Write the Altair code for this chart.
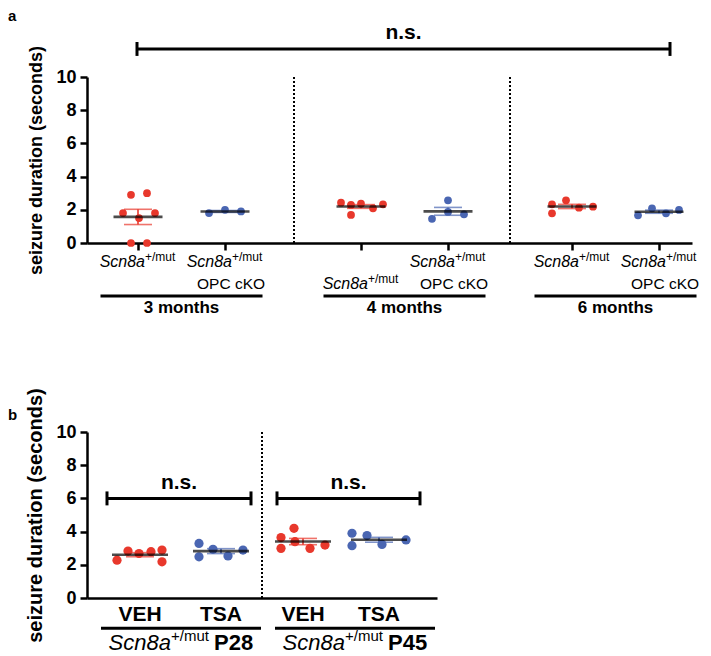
import altair as alt
import pandas as pd
import numpy as np

RED = "#E8382C"
BLUE = "#4A66B2"
F = "Liberation Sans"

# ---------------- Panel a data ----------------
a_geno = ["het", "cko", "het", "cko", "het", "cko"]
a_pos = [51, 138, 274, 361, 485, 572]
a_values = [
    [2.9, 3.0, 1.8, 1.8, 1.5, 0.0, 0.0],
    [1.8, 2.0, 1.9],
    [2.43, 2.29, 2.37, 2.09, 2.33, 1.69],
    [2.57, 1.46, 1.87, 1.73],
    [2.33, 2.57, 2.13, 2.19, 1.79],
    [1.67, 2.09, 1.79, 1.99],
]
a_jitter = [
    [-7, 9, -15, 17, 1, -7, 9],
    [-16, 0, 16],
    [-20, -10, 0, 12, 22, -10],
    [0, -16, 0, 16],
    [-20, -6, 7, 21, -20],
    [-21, -7, 7, 20],
]
a_row = [1, 1, 2, 1, 1, 1]
a_second = ["", "OPC cKO", "", "OPC cKO", "", "OPC cKO"]
a_months = ["3 months", "4 months", "6 months"]
a_dotted = [207, 423]
a_bracket = [50, 583]

# ---------------- Panel b data ----------------
b_geno = ["het", "cko", "het", "cko"]
b_treat = ["VEH", "TSA", "VEH", "TSA"]
b_pos = [53, 134, 216, 292]
b_values = [
    [2.28, 2.83, 2.68, 2.79, 2.89, 2.18],
    [3.29, 2.48, 2.93, 2.53, 2.89],
    [3.64, 2.99, 4.20, 3.39, 2.99, 3.19],
    [3.90, 3.15, 3.76, 3.23, 3.50],
]
b_jitter = [
    [-23, -12, -1, 11, 22, 22],
    [-22, -22, -8, 7, 22],
    [-22, -22, -9, -8, 7, 22],
    [-27, -27, -12, 3, 27],
]
b_blocks = ["P28", "P45"]
b_block_center = [94, 268]
b_dotted = [175]
b_brackets = [[20, 164], [190, 333]]

AW, BW, H = 605, 350, 166


def points_df(pos, values, jitter, geno):
    rows = []
    for p, vals, jit, g in zip(pos, values, jitter, geno):
        for v, j in zip(vals, jit):
            rows.append({"x": p + j, "y": v, "g": g})
    return pd.DataFrame(rows)


def stats_df(pos, values, geno):
    rows = []
    for p, vals, g in zip(pos, values, geno):
        v = np.asarray(vals, float)
        m = v.mean()
        s = v.std(ddof=1) / np.sqrt(len(v))
        rows.append({"x": p, "mean": m, "lo": m - s, "hi": m + s, "g": g})
    return pd.DataFrame(rows)


color = alt.Color("g:N", scale=alt.Scale(domain=["het", "cko"], range=[RED, BLUE]), legend=None)
YT = "seizure duration (seconds)"


def make_yaxis(title_size):
    return alt.Axis(values=[0, 2, 4, 6, 8, 10], grid=False, labelFont=F, labelFontSize=18,
                    labelFontWeight="bold", labelColor="black", tickSize=7, tickWidth=2.5,
                    tickColor="black", domainColor="black", domainWidth=2.5, labelPadding=4,
                    titleFont=F, titleFontSize=title_size, titleFontWeight="bold", titleColor="black",
                    titlePadding=10)


def build(width, pos, values, jitter, geno, xticks, size, meanw, title_size):
    xs = alt.Scale(domain=[0, width], nice=False, zero=False)
    ys = alt.Scale(domain=[0, 10], nice=False)
    yaxis = make_yaxis(title_size)
    if xticks:
        xaxis = alt.Axis(values=pos, labels=False, ticks=True, tickSize=7, tickWidth=2.5,
                         tickColor="black", domainColor="black", domainWidth=2.5, grid=False)
    else:
        xaxis = alt.Axis(labels=False, ticks=False, domainColor="black", domainWidth=2.5, grid=False)

    def X(f):
        return alt.X(f + ":Q", scale=xs, axis=xaxis, title=None)

    def Y(f):
        return alt.Y(f + ":Q", scale=ys, axis=yaxis, title=YT)

    pdf = points_df(pos, values, jitter, geno)
    sdf = stats_df(pos, values, geno)
    pts = alt.Chart(pdf).mark_circle(size=size, opacity=1).encode(x=X("x"), y=Y("y"), color=color)
    sem = alt.Chart(sdf).mark_rule(strokeWidth=1.6).encode(x=X("x"), y=Y("lo"), y2="hi:Q", color=color)
    caps_lo = alt.Chart(sdf).mark_tick(orient="horizontal", size=28, thickness=1.6).encode(
        x=X("x"), y=Y("lo"), color=color)
    caps_hi = alt.Chart(sdf).mark_tick(orient="horizontal", size=28, thickness=1.6).encode(
        x=X("x"), y=Y("hi"), color=color)
    mean = alt.Chart(sdf).mark_tick(orient="horizontal", size=meanw, thickness=2.6, color="black").encode(
        x=X("x"), y=Y("mean"))
    return X, Y, [pts, sem, caps_lo, caps_hi, mean]


# ---------------- Panel a ----------------
X, Y, la = build(AW, a_pos, a_values, a_jitter, a_geno, True, 60, 49, 18)

dots_a = alt.Chart(pd.DataFrame({"x": a_dotted, "y": [0, 0], "y2": [10, 10]})).mark_rule(
    strokeDash=[2, 2], strokeWidth=2, color="black").encode(x=X("x"), y=Y("y"), y2="y2:Q")
br_a = pd.DataFrame({"x": [a_bracket[0]], "x2": [a_bracket[1]], "y": [11.69]})
brh_a = alt.Chart(br_a).mark_rule(strokeWidth=3, color="black").encode(x=X("x"), x2="x2:Q", y=Y("y"))
brv_a = alt.Chart(pd.DataFrame({"x": a_bracket, "y": [11.27, 11.27], "y2": [12.11, 12.11]})).mark_rule(
    strokeWidth=3, color="black").encode(x=X("x"), y=Y("y"), y2="y2:Q")
ns_a = alt.Chart(pd.DataFrame({"x": [sum(a_bracket) / 2], "y": [12.29], "t": ["n.s."]})).mark_text(
    font=F, fontSize=21, fontWeight="bold", baseline="alphabetic", color="black").encode(
    x=X("x"), y=Y("y"), text="t:N")

rowy = {1: -1.12, 2: -2.47}
lab_a = pd.DataFrame({"x": a_pos, "y": [rowy[r] for r in a_row],
                      "t": ["Scn8a"] * 6, "s": ["+/mut"] * 6})
scn_a = alt.Chart(lab_a).mark_text(font=F, fontSize=16, fontStyle="italic", align="right", dx=7,
                                   baseline="middle", color="black").encode(x=X("x"), y=Y("y"), text="t:N")
sup_a = alt.Chart(lab_a).mark_text(font=F, fontSize=12, align="left", dx=7, dy=-5,
                                   baseline="middle", color="black").encode(x=X("x"), y=Y("y"), text="s:N")
sec_a = pd.DataFrame({"x": a_pos, "y": [rowy[2]] * 6, "t": a_second})
sec_a = sec_a[sec_a["t"] != ""]
opc_a = alt.Chart(sec_a).mark_text(font=F, fontSize=15.5, dx=6, baseline="middle", color="black").encode(
    x=X("x"), y=Y("y"), text="t:N")
ul = pd.DataFrame({"x": [a_pos[0] - 37.5, a_pos[2] - 37.5, a_pos[4] - 37.5],
                   "x2": [a_pos[1] + 37.5, a_pos[3] + 37.5, a_pos[5] + 37.5],
                   "y": [-3.19] * 3})
ul_a = alt.Chart(ul).mark_rule(strokeWidth=3, color="black").encode(x=X("x"), x2="x2:Q", y=Y("y"))
mo = pd.DataFrame({"x": [(a_pos[0] + a_pos[1]) / 2, (a_pos[2] + a_pos[3]) / 2, (a_pos[4] + a_pos[5]) / 2],
                   "y": [-3.92] * 3, "t": a_months})
mo_a = alt.Chart(mo).mark_text(font=F, fontSize=17, fontWeight="bold", baseline="middle", color="black").encode(
    x=X("x"), y=Y("y"), text="t:N")
let_a = alt.Chart(pd.DataFrame({"x": [-79], "y": [14.1], "t": ["a"]})).mark_text(
    font=F, fontSize=15, fontWeight="bold", align="left", baseline="top", color="black").encode(
    x=X("x"), y=Y("y"), text="t:N")

panel_a = alt.layer(dots_a, brh_a, brv_a, ns_a, *la, scn_a, sup_a, opc_a, ul_a, mo_a, let_a).properties(
    width=AW, height=H)

# ---------------- Panel b ----------------
Xb, Yb, lb = build(BW, b_pos, b_values, b_jitter, b_geno, False, 85, 56, 20)

dots_b = alt.Chart(pd.DataFrame({"x": b_dotted, "y": [0], "y2": [10]})).mark_rule(
    strokeDash=[2, 2], strokeWidth=2, color="black").encode(x=Xb("x"), y=Yb("y"), y2="y2:Q")
brb = pd.DataFrame({"x": [b[0] for b in b_brackets], "x2": [b[1] for b in b_brackets], "y": [6.0, 6.0]})
brh_b = alt.Chart(brb).mark_rule(strokeWidth=3, color="black").encode(x=Xb("x"), x2="x2:Q", y=Yb("y"))
brv = pd.DataFrame({"x": [v for b in b_brackets for v in b], "y": [5.58] * 4, "y2": [6.42] * 4})
brv_b = alt.Chart(brv).mark_rule(strokeWidth=3, color="black").encode(x=Xb("x"), y=Yb("y"), y2="y2:Q")
ns_b = alt.Chart(pd.DataFrame({"x": [sum(b) / 2 for b in b_brackets], "y": [6.55, 6.55], "t": ["n.s.", "n.s."]})).mark_text(
    font=F, fontSize=21, fontWeight="bold", baseline="alphabetic", color="black").encode(
    x=Xb("x"), y=Yb("y"), text="t:N")
tr = alt.Chart(pd.DataFrame({"x": b_pos, "y": [-1.03] * 4, "t": b_treat})).mark_text(
    font=F, fontSize=21, fontWeight="bold", baseline="middle", color="black").encode(
    x=Xb("x"), y=Yb("y"), text="t:N")
ulb = pd.DataFrame({"x": [c - 80 for c in b_block_center], "x2": [c + 80 for c in b_block_center], "y": [-1.82] * 2})
ul_b = alt.Chart(ulb).mark_rule(strokeWidth=3, color="black").encode(x=Xb("x"), x2="x2:Q", y=Yb("y"))
cap = pd.DataFrame({"x": b_block_center, "y": [-2.72] * 2, "t": ["Scn8a"] * 2, "s": ["+/mut"] * 2, "p": b_blocks})
scn_b = alt.Chart(cap).mark_text(font=F, fontSize=22, fontStyle="italic", align="right", dx=-10,
                                 baseline="middle", color="black").encode(x=Xb("x"), y=Yb("y"), text="t:N")
sup_b = alt.Chart(cap).mark_text(font=F, fontSize=15, align="left", dx=-10, dy=-7,
                                 baseline="middle", color="black").encode(x=Xb("x"), y=Yb("y"), text="s:N")
p_b = alt.Chart(cap).mark_text(font=F, fontSize=22, fontWeight="bold", align="left", dx=33,
                               baseline="middle", color="black").encode(x=Xb("x"), y=Yb("y"), text="p:N")
let_b = alt.Chart(pd.DataFrame({"x": [-79], "y": [11.45], "t": ["b"]})).mark_text(
    font=F, fontSize=15, fontWeight="bold", align="left", baseline="top", color="black").encode(
    x=Xb("x"), y=Yb("y"), text="t:N")

panel_b = alt.layer(dots_b, brh_b, brv_b, ns_b, *lb, tr, ul_b, scn_b, sup_b, p_b, let_b).properties(
    width=BW, height=H)

chart = alt.vconcat(panel_a, panel_b, spacing=70).properties(padding=0).configure_view(strokeWidth=0)

chart.save("out.html", embed_options={"renderer": "svg", "actions": False})
